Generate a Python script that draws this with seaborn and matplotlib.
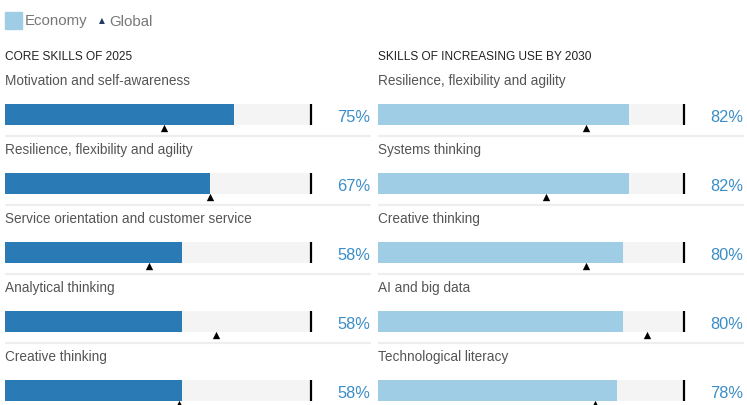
import numpy as np
import pandas as pd
import matplotlib
matplotlib.use("Agg")
import matplotlib.pyplot as plt
import seaborn as sns

# Data
core_skills = ["Motivation and self-awareness", "Resilience, flexibility and agility",
               "Service orientation and customer service", "Analytical thinking",
               "Creative thinking"]
core_economy = [75, 67, 58, 58, 58]
core_global = [52, 67, 47, 69, 57]

rising_skills = ["Resilience, flexibility and agility", "Systems thinking",
                 "Creative thinking", "AI and big data", "Technological literacy"]
rising_economy = [82, 82, 80, 80, 78]
rising_global = [68, 55, 68, 88, 71]

panel_titles = ["CORE SKILLS OF 2025", "SKILLS OF INCREASING USE BY 2030"]

DARK_BLUE = "#2a7bb5"
LIGHT_BLUE = "#9fcde6"
TRACK = "#f4f4f4"
PCT_COLOR = "#3a8dc8"

sns.set_style("white")
plt.rcParams['font.family'] = ['Liberation Sans', 'DejaVu Sans']

W, H = 747, 405
fig = plt.figure(figsize=(W / 100, H / 100), dpi=100)

XMAX = 366 / 3.06  # panel width in data units (100% == 306 px)
BAR_H = 0.304


def draw_panel(ax, skills, economy, glob, color, title):
    df = pd.DataFrame({"skill": skills, "economy": economy, "global": glob,
                       "full": [100] * len(skills)})
    rows = np.arange(len(skills))
    sns.barplot(data=df, x="full", y="skill", orient="h", color=TRACK,
                width=BAR_H, saturation=1, linewidth=0, ax=ax)
    sns.barplot(data=df, x="economy", y="skill", orient="h", color=color,
                width=BAR_H, saturation=1, linewidth=0, ax=ax)
    ax.vlines(df["full"], rows - BAR_H / 2, rows + BAR_H / 2, color="black", lw=1.6)
    ax.scatter(df["global"], rows + 0.2, marker="^", s=28, color="black",
               zorder=5, linewidths=0)
    ax.hlines(rows[:-1] + 0.31, 0, XMAX, color="#eeeeee", lw=1.6)
    for i, (name, val) in enumerate(zip(skills, economy)):
        ax.text(0, i - 0.49, name, va="center", ha="left", fontsize=9.8, color="#555555")
        ax.text(XMAX - 0.3, i + 0.05, f"{val}%", va="center", ha="right",
                fontsize=11.8, color=PCT_COLOR)
    ax.text(0, -0.83, title, va="center", ha="left", fontsize=8.6, color="#222222")
    ax.set_xlim(0, XMAX)
    ax.set_ylim(4.21, -1.66)
    ax.set_axis_off()


ax1 = fig.add_axes([5 / W, 0, 366 / W, 1])
ax2 = fig.add_axes([378 / W, 0, 366 / W, 1])
draw_panel(ax1, core_skills, core_economy, core_global, DARK_BLUE, panel_titles[0])
draw_panel(ax2, rising_skills, rising_economy, rising_global, LIGHT_BLUE, panel_titles[1])

# Legend
fig.patches.append(plt.Rectangle((5 / W, 1 - 29 / H), 17 / W, 17 / H,
                                 transform=fig.transFigure, color=LIGHT_BLUE))
fig.text(25 / W, 1 - 21.5 / H, "Economy", va="center", ha="left",
         fontsize=10.8, color="#777777")
fig.text(99 / W, 1 - 21 / H, "\u25b2", va="center", ha="left",
         fontsize=5.5, color="#1f3a5f", family=["DejaVu Sans"])
fig.text(109 / W, 1 - 21.5 / H, "Global", va="center", ha="left",
         fontsize=10.8, color="#777777")

fig.savefig("out.png", dpi=100)
